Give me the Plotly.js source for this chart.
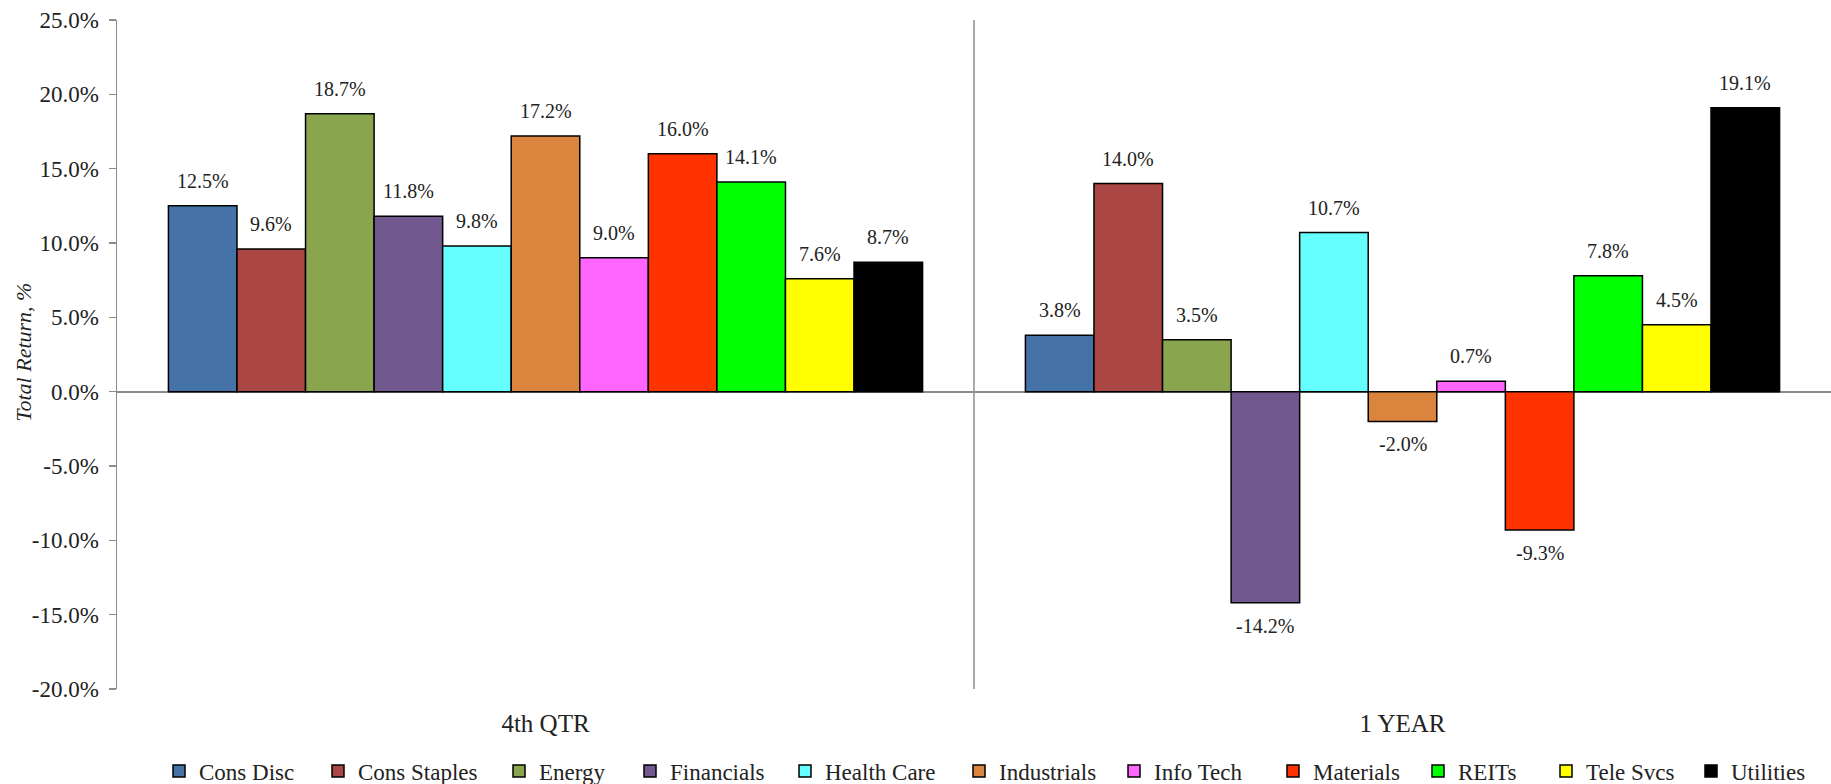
<!DOCTYPE html>
<html>
<head>
<meta charset="utf-8">
<script src="https://cdn.plot.ly/plotly-3.0.1.min.js"></script>
<style>
  html, body { margin: 0; padding: 0; background: #fff; }
  #chart { width: 1831px; height: 784px; }
</style>
</head>
<body>
<div id="chart"></div>
<script>
// Periods shown on the category axis
const periods = ['4th QTR', '1 YEAR'];

// Sectors (one bar series each) and their fill colours
const sectors = ['Cons Disc', 'Cons Staples', 'Energy', 'Financials', 'Health Care',
                 'Industrials', 'Info Tech', 'Materials', 'REITs', 'Tele Svcs', 'Utilities'];
const sectorColors = ['#4572A7', '#AA4643', '#89A54E', '#71588F', '#66FFFF',
                      '#DB843D', '#FF66FF', '#FF3300', '#00FF00', '#FFFF00', '#000000'];

// Total return, % — per sector
const qtrReturns  = [12.5, 9.6, 18.7, 11.8, 9.8, 17.2, 9.0, 16.0, 14.1, 7.6, 8.7];
const yearReturns = [3.8, 14.0, 3.5, -14.2, 10.7, -2.0, 0.7, -9.3, 7.8, 4.5, 19.1];

// Value axis ticks
const yTickVals = [-20, -15, -10, -5, 0, 5, 10, 15, 20, 25];
const yTickText = yTickVals.map(v => v.toFixed(1) + '%');

const FONT = 'Liberation Serif';
const TEXT_COLOR = '#222';
const BARGAP = 0.12;
const W = 1831, H = 784;

// Legend row: left edge (px) where each entry's label starts
const legendLabelLeft = [199, 358, 539, 670, 825, 999, 1154, 1313, 1458, 1586, 1731];

const fmt = v => v.toFixed(1) + '%';
const legendId = i => (i === 0 ? 'legend' : 'legend' + (i + 1));

const traces = sectors.map((name, i) => ({
  type: 'bar',
  name: name,
  x: periods,
  y: [qtrReturns[i], yearReturns[i]],
  legend: legendId(i),
  marker: { color: sectorColors[i], line: { color: '#000000', width: 1.5 } },
  hoverinfo: 'x+y+name'
}));

// Value labels placed over (or under) each bar in the group
const n = sectors.length;
const bw = (1 - BARGAP) / n;
const annotations = [];
[qtrReturns, yearReturns].forEach((series, p) => {
  series.forEach((v, i) => {
    annotations.push({
      xref: 'x', yref: 'y',
      x: p - 0.5 + BARGAP / 2 + bw * (i + 0.5),
      y: v,
      text: fmt(v),
      showarrow: false,
      xanchor: 'center',
      yanchor: v >= 0 ? 'bottom' : 'top',
      yshift: v >= 0 ? 12 : -10,
      font: { family: FONT, size: 20, color: TEXT_COLOR }
    });
  });
});

// Value-axis title
annotations.push({
  xref: 'paper', yref: 'paper',
  x: -0.0543, y: 0.504,
  text: '<i>Total Return, %</i>',
  textangle: -90,
  showarrow: false,
  xanchor: 'center', yanchor: 'middle',
  font: { family: FONT, size: 22, color: TEXT_COLOR }
});

const layout = {
  width: W, height: H,
  margin: { l: 117, r: 0, t: 20, b: 95 },
  paper_bgcolor: '#ffffff',
  plot_bgcolor: '#ffffff',
  font: { family: FONT, size: 20, color: TEXT_COLOR },
  barmode: 'group',
  bargap: BARGAP,
  bargroupgap: 0,
  showlegend: true,
  xaxis: {
    type: 'category',
    showline: false,
    showgrid: false,
    zeroline: false,
    ticks: '',
    ticklabelstandoff: 17,
    tickfont: { family: FONT, size: 25, color: TEXT_COLOR },
    fixedrange: true
  },
  yaxis: {
    range: [-20, 25],
    tickvals: yTickVals,
    ticktext: yTickText,
    showline: true,
    linecolor: '#8c8c8c',
    linewidth: 1.5,
    ticks: 'outside',
    ticklen: 7,
    tickcolor: '#8c8c8c',
    tickwidth: 1.5,
    ticklabelstandoff: 5,
    showgrid: false,
    zeroline: true,
    zerolinecolor: '#8c8c8c',
    zerolinewidth: 2,
    tickfont: { family: FONT, size: 23, color: TEXT_COLOR },
    automargin: false,
    fixedrange: true
  },
  shapes: [{
    type: 'line', xref: 'x', yref: 'y',
    x0: 0.5, x1: 0.5, y0: -20, y1: 25,
    line: { color: '#8c8c8c', width: 1.5 },
    layer: 'below'
  }],
  annotations: annotations
};

// One single-entry legend per sector, laid out along the bottom row
sectors.forEach((name, i) => {
  layout[legendId(i)] = {
    orientation: 'h',
    xref: 'container', x: (legendLabelLeft[i] - 40) / W, xanchor: 'left',
    yref: 'container', y: 13 / H, yanchor: 'middle',
    bgcolor: 'rgba(0,0,0,0)',
    borderwidth: 0,
    itemwidth: 30,
    font: { family: FONT, size: 23, color: TEXT_COLOR }
  };
});

Plotly.newPlot('chart', traces, layout, { displayModeBar: false, staticPlot: true });
</script>
</body>
</html>
